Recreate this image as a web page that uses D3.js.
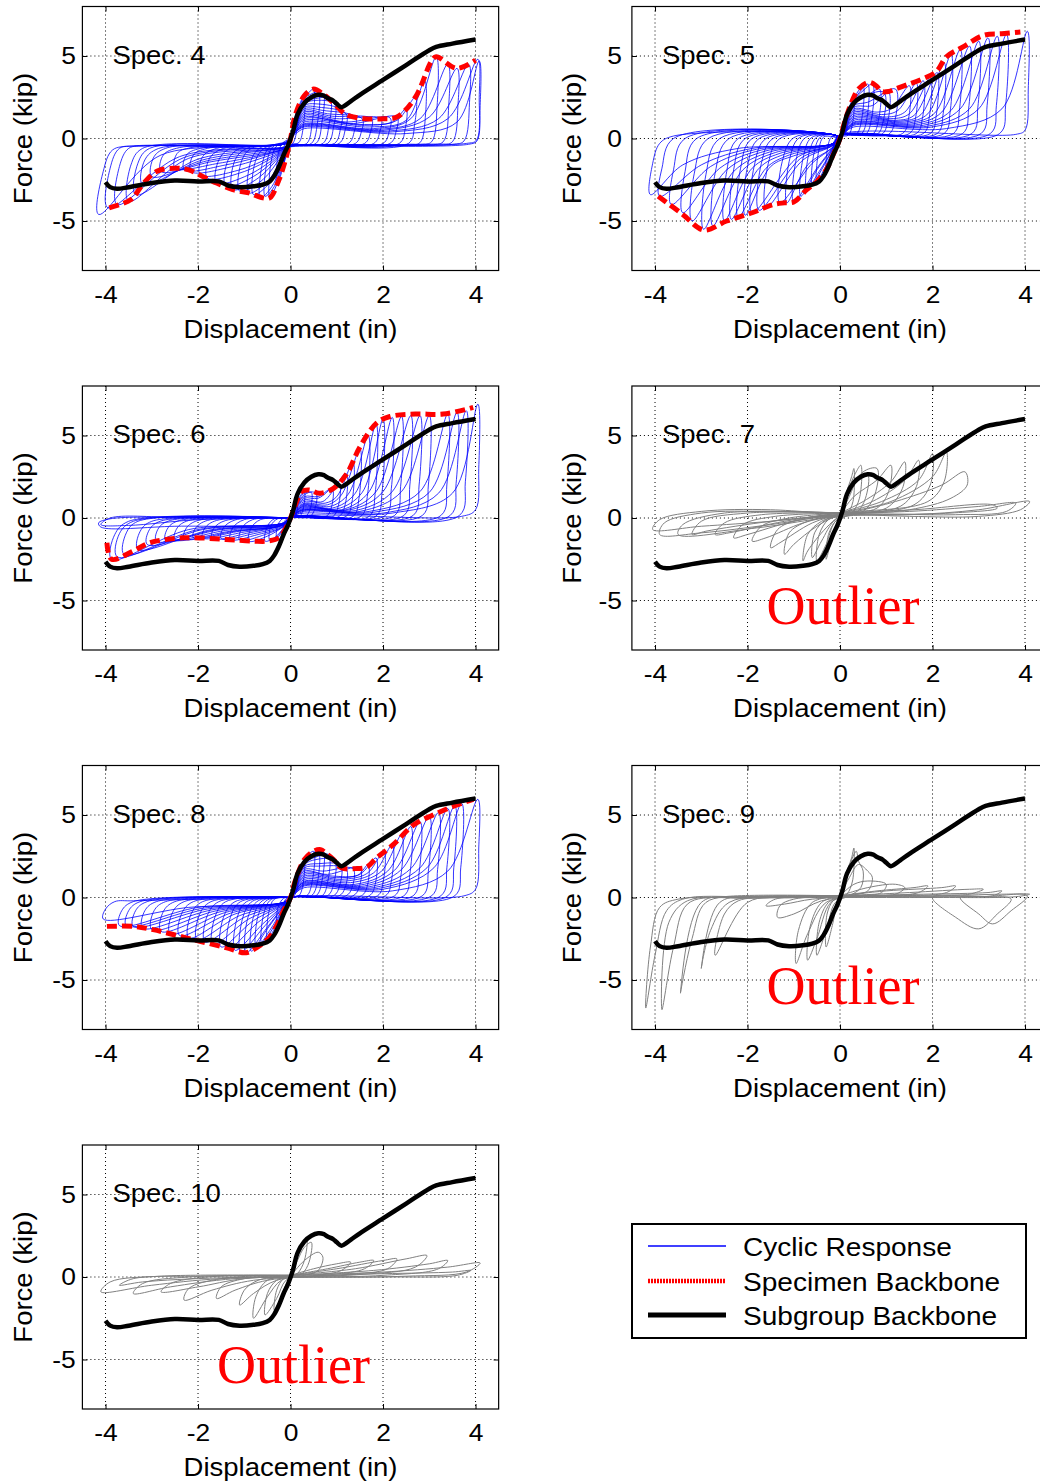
<!DOCTYPE html>
<html><head><meta charset="utf-8">
<script src="https://cdn.jsdelivr.net/npm/d3@7"></script>
<style>body{margin:0;background:#fff}svg{display:block}</style>
</head><body>
<svg id="c" width="1040" height="1483"></svg>
<script>
// ---------- tick labels / axes ----------
const xTicks = [-4, -2, 0, 2, 4];
const yTicks = [-5, 0, 5];
const xDomain = [-4.5, 4.5];
const yDomain = [-8, 8];
const xLabel = "Displacement (in)";
const yLabel = "Force (kip)";
const legendItems = ["Cyclic Response", "Specimen Backbone", "Subgroup Backbone"];

// ---------- subgroup backbone (same in every panel) ----------
const subgroupBackbone = [-4.0,-2.65, -3.9,-2.95, -3.75,-3.05, -3.5,-2.95, -3.0,-2.7, -2.5,-2.55, -2.0,-2.6, -1.55,-2.6, -1.35,-2.85, -1.1,-2.95, -0.8,-2.9, -0.6,-2.8, -0.45,-2.6, -0.35,-2.25, -0.25,-1.7, -0.15,-1.0, -0.05,-0.4, 0.05,0.4, 0.15,1.45, 0.3,2.15, 0.45,2.5, 0.6,2.65, 0.72,2.6, 0.8,2.45, 0.92,2.3, 1.0,2.1, 1.1,1.9, 1.3,2.25, 1.5,2.65, 2.0,3.55, 2.5,4.45, 3.0,5.35, 3.15,5.55, 3.5,5.75, 4.0,6.0];

// ---------- specimen backbones ----------
const spec4Backbone = [-3.92,-4.2, -3.45,-3.7, -3.2,-2.8, -2.9,-2.0, -2.5,-1.8, -2.2,-1.9, -1.9,-2.3, -1.6,-2.7, -1.25,-3.1, -0.9,-3.3, -0.6,-3.6, -0.45,-3.6, -0.25,-2.5, -0.1,-1.2, 0,0, 0.1,1.4, 0.3,2.6, 0.5,3.0, 0.7,2.7, 0.95,2.1, 1.2,1.45, 1.6,1.2, 2.0,1.2, 2.3,1.3, 2.7,2.5, 3.05,4.7, 3.15,4.95, 3.6,4.25, 4.0,4.75];
const spec5Backbone = [-3.93,-3.5, -3.4,-4.6, -2.95,-5.55, -2.45,-5.0, -1.9,-4.5, -1.44,-4.0, -1.2,-3.9, -1.0,-3.85, -0.72,-3.1, -0.5,-2.6, -0.3,-1.9, -0.15,-1.0, 0,0, 0.1,1.0, 0.25,2.2, 0.4,3.0, 0.62,3.4, 0.78,3.2, 0.9,2.85, 1.05,2.85, 1.2,3.0, 1.44,3.25, 1.73,3.55, 2.08,4.05, 2.3,4.95, 2.66,5.55, 3.1,6.25, 3.5,6.35, 3.9,6.45];
const spec6Backbone = [-3.97,-1.5, -3.87,-2.5, -3.4,-2.0, -3.04,-1.5, -2.3,-1.2, -1.4,-1.3, -0.8,-1.4, -0.5,-1.4, -0.25,-1.2, -0.1,-0.6, 0,0, 0.12,0.9, 0.24,1.6, 0.4,1.7, 0.62,1.5, 0.93,1.8, 1.22,2.7, 1.5,4.3, 1.86,5.75, 2.15,6.15, 2.7,6.3, 3.3,6.3, 3.95,6.7];
const spec8Backbone = [-3.97,-1.75, -3.4,-1.75, -2.97,-1.95, -2.46,-2.3, -1.96,-2.65, -1.38,-3.05, -0.96,-3.35, -0.74,-3.05, -0.5,-2.55, -0.3,-1.7, -0.15,-0.8, 0,0, 0.1,1.0, 0.3,2.3, 0.5,2.8, 0.65,2.9, 0.8,2.6, 0.93,2.3, 1.1,1.8, 1.4,1.75, 1.65,1.85, 1.86,2.4, 2.22,3.2, 2.66,4.4, 3.08,5.0, 3.5,5.5, 3.95,5.95];

// ---------- cyclic responses (one flat [x,y,...] array per cycle) ----------
const spec4Cyclic = [
 [0,0, 0.08,1.1, 0.15,1.8, 0.13,0.4, 0.05,-0.3, -0.05,-0.5, -0.15,-1.5, -0.13,-0.4, -0.05,-0.1, 0,0],
 [0,0, 0.1,1.2, 0.2,2.1, 0.3,2.6, 0.28,0.8, 0.18,-0.25, 0,-0.4, -0.12,-1.3, -0.22,-2.3, -0.3,-2.8, -0.27,-1.0, -0.18,-0.3, 0,0],
 [0,0, 0.1,1.1, 0.25,2.3, 0.4,2.8, 0.5,3.0, 0.47,1.0, 0.35,-0.3, 0,-0.4, -0.12,-1.2, -0.3,-2.8, -0.45,-3.6, -0.42,-1.4, -0.3,-0.45, 0,-0.15, 0,0],
 [0,0, 0.12,1.2, 0.3,2.3, 0.5,2.6, 0.7,2.7, 0.68,1.0, 0.55,-0.3, 0,-0.45, -0.15,-1.3, -0.4,-2.9, -0.65,-3.6, -0.6,-1.4, -0.45,-0.5, -0.1,-0.2, 0,0],
 [0,0, 0.12,1.1, 0.3,2.1, 0.5,2.3, 0.95,2.1, 0.93,0.7, 0.8,-0.3, 0,-0.45, -0.15,-1.1, -0.5,-2.6, -0.9,-3.3, -0.85,-1.3, -0.65,-0.55, -0.1,-0.25, 0,0],
 [0,0, 0.12,1.0, 0.3,1.9, 0.6,1.9, 1.2,1.5, 1.18,0.5, 1.05,-0.3, 0,-0.45, -0.2,-1.0, -0.7,-2.4, -1.25,-3.1, -1.2,-1.3, -0.95,-0.6, -0.1,-0.3, 0,0],
 [0,0, 0.12,0.9, 0.3,1.7, 0.8,1.5, 1.55,1.2, 1.53,0.4, 1.4,-0.3, 0,-0.45, -0.2,-0.9, -0.9,-2.2, -1.6,-2.7, -1.55,-1.3, -1.3,-0.6, -0.1,-0.3, 0,0],
 [0,0, 0.12,0.8, 0.3,1.5, 1.0,1.2, 1.95,1.2, 1.93,0.4, 1.8,-0.3, 0,-0.45, -0.2,-0.8, -1.1,-1.9, -1.95,-2.2, -1.9,-1.1, -1.6,-0.6, -0.1,-0.3, 0,0],
 [0,0, 0.12,0.7, 0.3,1.3, 1.3,0.9, 2.3,1.3, 2.28,0.4, 2.15,-0.3, 0,-0.45, -0.2,-0.7, -1.4,-1.6, -2.3,-1.9, -2.25,-1.0, -1.95,-0.6, -0.1,-0.3, 0,0],
 [0,0, 0.12,0.6, 0.3,1.1, 1.6,0.8, 2.3,1.1, 2.7,2.5, 2.68,0.8, 2.55,-0.3, 0,-0.45, -0.2,-0.7, -1.7,-1.4, -2.8,-2.0, -2.75,-1.0, -2.4,-0.55, -0.1,-0.3, 0,0],
 [0,0, 0.12,0.5, 0.3,0.9, 1.8,0.6, 2.6,1.2, 3.15,4.95, 3.17,2.0, 3.05,-0.2, 2.8,-0.35, 0,-0.45, -0.2,-0.6, -1.9,-1.3, -3.2,-2.8, -3.15,-1.3, -2.85,-0.6, -0.1,-0.3, 0,0],
 [0,0, 0.12,0.4, 0.3,0.8, 2.0,0.5, 3.0,1.3, 3.6,4.25, 3.62,2.0, 3.5,-0.2, 3.2,-0.35, 0,-0.45, -0.2,-0.6, -2.2,-1.2, -3.5,-3.8, -3.45,-1.6, -3.2,-0.6, -0.1,-0.3, 0,0],
 [0,0, 0.12,0.4, 0.3,0.7, 2.2,0.4, 3.4,1.2, 4.05,4.8, 4.08,2.5, 4.02,-0.1, 3.8,-0.3, 0,-0.45, -0.2,-0.55, -2.4,-1.1, -3.95,-4.2, -3.9,-1.8, -3.7,-0.6, -3.3,-0.45, -0.1,-0.3, 0,0],
 [0,0, 0.12,0.3, 0.3,0.6, 2.5,0.3, 3.6,1.0, 4.08,4.7, 4.1,2.0, 4.03,-0.15, 3.85,-0.35, 0,-0.5, -0.2,-0.6, -2.8,-1.0, -4.15,-4.6, -4.05,-2.0, -3.85,-0.7, -3.4,-0.45, -0.1,-0.3, 0,0],
 [0,0, 0.12,1.2, 0.3,2.4, 0.45,2.7, 0.6,2.8, 0.58,0.9, 0.45,-0.3, 0,-0.45, -0.15,-1.3, -0.35,-2.9, -0.55,-3.5, -0.5,-1.3, -0.38,-0.5, -0.05,-0.2, 0,0],
 [0,0, 0.12,1.1, 0.3,2.2, 0.5,2.4, 0.85,2.4, 0.83,0.8, 0.7,-0.3, 0,-0.45, -0.15,-1.2, -0.45,-2.7, -0.8,-3.4, -0.75,-1.3, -0.55,-0.55, -0.1,-0.25, 0,0],
 [0,0, 0.12,1.0, 0.3,2.0, 0.55,2.1, 1.1,1.7, 1.08,0.6, 0.95,-0.3, 0,-0.45, -0.2,-1.1, -0.6,-2.5, -1.1,-3.2, -1.05,-1.3, -0.85,-0.6, -0.1,-0.3, 0,0],
 [0,0, 0.12,0.9, 0.3,1.8, 0.7,1.7, 1.4,1.3, 1.38,0.45, 1.25,-0.3, 0,-0.45, -0.2,-0.95, -0.8,-2.3, -1.4,-2.9, -1.35,-1.3, -1.1,-0.6, -0.1,-0.3, 0,0],
 [0,0, 0.12,0.8, 0.3,1.6, 0.9,1.35, 1.75,1.2, 1.73,0.4, 1.6,-0.3, 0,-0.45, -0.2,-0.85, -1.0,-2.0, -1.8,-2.4, -1.75,-1.2, -1.45,-0.6, -0.1,-0.3, 0,0],
 [0,0, 0.12,0.7, 0.3,1.4, 1.2,1.0, 2.15,1.25, 2.13,0.4, 2.0,-0.3, 0,-0.45, -0.2,-0.75, -1.25,-1.7, -2.15,-2.0, -2.1,-1.0, -1.8,-0.6, -0.1,-0.3, 0,0],
 [0,0, 0.12,0.6, 0.3,1.2, 1.5,0.85, 2.2,1.0, 2.5,1.8, 2.48,0.6, 2.35,-0.3, 0,-0.45, -0.2,-0.7, -1.55,-1.5, -2.5,-1.8, -2.45,-0.9, -2.15,-0.55, -0.1,-0.3, 0,0],
 [0,0, 0.12,0.5, 0.3,1.0, 1.7,0.7, 2.5,1.1, 2.9,3.5, 2.92,1.5, 2.8,-0.25, 2.55,-0.35, 0,-0.45, -0.2,-0.65, -1.8,-1.35, -3.0,-2.3, -2.95,-1.1, -2.65,-0.55, -0.1,-0.3, 0,0],
 [0,0, 0.12,0.45, 0.3,0.85, 1.9,0.55, 2.8,1.2, 3.4,4.5, 3.42,2.0, 3.3,-0.2, 3.0,-0.35, 0,-0.45, -0.2,-0.6, -2.0,-1.25, -3.35,-3.4, -3.3,-1.5, -3.05,-0.6, -0.1,-0.3, 0,0],
 [0,0, 0.12,0.4, 0.3,0.75, 2.1,0.45, 3.2,1.2, 3.85,4.5, 3.87,2.2, 3.75,-0.15, 3.5,-0.35, 0,-0.45, -0.2,-0.55, -2.3,-1.15, -3.75,-4.0, -3.7,-1.7, -3.5,-0.6, -3.1,-0.45, -0.1,-0.3, 0,0]
];
const spec5Cyclic = [
 [0,0, 0.08,0.8, 0.15,1.5, 0.13,0.5, 0.05,0.1, -0.05,-0.3, -0.15,-0.9, -0.13,-0.2, -0.05,0.1, 0,0],
 [0,0, 0.1,1.0, 0.2,1.9, 0.3,2.5, 0.27,0.9, 0.18,0.2, 0,0.1, -0.12,-0.7, -0.22,-1.4, -0.3,-1.9, -0.27,-0.6, -0.18,0.1, 0,0],
 [0,0, 0.1,1.0, 0.25,2.1, 0.4,2.9, 0.5,3.2, 0.47,1.2, 0.35,0.25, 0,0.15, -0.15,-0.7, -0.35,-1.9, -0.5,-2.6, -0.47,-0.9, -0.35,0.1, 0,0],
 [0,0, 0.12,1.1, 0.3,2.3, 0.5,2.9, 0.7,3.3, 0.68,1.2, 0.55,0.25, 0,0.2, -0.15,-0.6, -0.45,-2.0, -0.72,-3.1, -0.68,-1.0, -0.5,0.1, -0.1,0.2, 0,0],
 [0,0, 0.12,1.0, 0.3,2.2, 0.55,2.6, 0.95,2.8, 0.93,1.0, 0.8,0.25, 0,0.2, -0.15,-0.5, -0.5,-1.8, -1.0,-3.85, -0.95,-1.3, -0.75,0.05, -0.1,0.2, 0,0],
 [0,0, 0.12,1.0, 0.3,2.0, 0.6,2.2, 1.2,3.0, 1.18,1.0, 1.05,0.25, 0,0.2, -0.15,-0.5, -0.6,-1.5, -1.3,-3.9, -1.25,-1.4, -1.0,0.05, -0.1,0.2, 0,0],
 [0,0, 0.12,0.9, 0.3,1.8, 0.8,1.6, 1.1,1.8, 1.5,3.2, 1.48,1.2, 1.35,0.3, 0,0.2, -0.15,-0.4, -0.8,-1.3, -1.6,-4.2, -1.55,-1.5, -1.3,0.0, -0.1,0.2, 0,0],
 [0,0, 0.12,0.8, 0.3,1.6, 1.0,1.3, 1.4,1.6, 1.8,3.5, 1.78,1.2, 1.65,0.3, 0,0.2, -0.15,-0.4, -0.9,-1.1, -1.9,-4.5, -1.85,-1.6, -1.6,0.0, -0.1,0.2, 0,0],
 [0,0, 0.12,0.7, 0.3,1.4, 1.2,1.1, 1.6,1.4, 2.1,4.0, 2.08,1.4, 1.95,0.3, 0,0.2, -0.15,-0.35, -1.1,-1.0, -1.6,-1.8, -2.2,-4.8, -2.15,-1.8, -1.9,0.0, -0.1,0.2, 0,0],
 [0,0, 0.12,0.6, 0.3,1.2, 1.4,1.0, 1.9,1.5, 2.4,5.1, 2.38,1.6, 2.25,0.3, 0,0.2, -0.15,-0.3, -1.3,-0.9, -1.9,-1.8, -2.5,-5.0, -2.45,-2.0, -2.2,0.0, -0.1,0.2, 0,0],
 [0,0, 0.12,0.5, 0.3,1.0, 1.6,0.9, 2.2,1.6, 2.8,5.6, 2.78,1.8, 2.65,0.3, 0,0.2, -0.15,-0.3, -1.5,-0.8, -2.3,-2.0, -2.95,-5.5, -2.9,-2.2, -2.6,0.0, -0.1,0.2, 0,0],
 [0,0, 0.12,0.5, 0.3,0.9, 1.8,0.8, 2.6,1.8, 3.2,6.1, 3.18,2.0, 3.05,0.3, 0,0.2, -0.15,-0.3, -1.7,-0.7, -2.6,-1.8, -3.4,-4.5, -3.35,-2.0, -3.1,0.0, -0.1,0.2, 0,0],
 [0,0, 0.12,0.4, 0.3,0.8, 2.0,0.7, 3.0,1.8, 3.6,6.3, 3.58,2.0, 3.45,0.3, 0,0.2, -0.15,-0.3, -1.9,-0.6, -3.0,-1.6, -3.9,-3.5, -3.85,-1.8, -3.6,0.0, -0.1,0.2, 0,0],
 [0,0, 0.12,0.4, 0.3,0.7, 2.3,0.6, 3.5,1.8, 4.05,6.5, 4.07,3.0, 4.0,0.5, 3.8,0.25, 0,0.25, -0.15,-0.3, -2.2,-0.6, -3.4,-1.6, -4.1,-3.4, -4.05,-1.5, -3.9,-0.3, -3.6,0.15, -0.1,0.2, 0,0],
 [0,0, 0.12,1.1, 0.3,2.3, 0.45,2.9, 0.6,3.3, 0.58,1.2, 0.45,0.25, 0,0.2, -0.15,-0.6, -0.4,-1.9, -0.6,-2.8, -0.57,-1.0, -0.42,0.1, -0.1,0.2, 0,0],
 [0,0, 0.12,1.0, 0.3,2.1, 0.55,2.5, 0.85,3.0, 0.83,1.1, 0.7,0.25, 0,0.2, -0.15,-0.55, -0.5,-1.9, -0.85,-3.5, -0.8,-1.2, -0.62,0.05, -0.1,0.2, 0,0],
 [0,0, 0.12,1.0, 0.3,1.9, 0.7,2.0, 1.05,2.8, 1.03,1.0, 0.9,0.25, 0,0.2, -0.15,-0.5, -0.7,-1.6, -1.15,-3.9, -1.1,-1.4, -0.88,0.05, -0.1,0.2, 0,0],
 [0,0, 0.12,0.85, 0.3,1.7, 0.9,1.45, 1.25,1.7, 1.65,3.35, 1.63,1.2, 1.5,0.3, 0,0.2, -0.15,-0.4, -0.85,-1.2, -1.75,-4.35, -1.7,-1.5, -1.45,0.0, -0.1,0.2, 0,0],
 [0,0, 0.12,0.75, 0.3,1.5, 1.1,1.2, 1.5,1.5, 1.95,3.7, 1.93,1.3, 1.8,0.3, 0,0.2, -0.15,-0.35, -1.0,-1.05, -1.5,-1.7, -2.05,-4.65, -2.0,-1.7, -1.75,0.0, -0.1,0.2, 0,0],
 [0,0, 0.12,0.65, 0.3,1.3, 1.3,1.05, 1.75,1.45, 2.25,4.6, 2.23,1.5, 2.1,0.3, 0,0.2, -0.15,-0.3, -1.2,-0.95, -1.75,-1.8, -2.35,-4.9, -2.3,-1.9, -2.05,0.0, -0.1,0.2, 0,0],
 [0,0, 0.12,0.55, 0.3,1.1, 1.5,0.95, 2.05,1.55, 2.6,5.4, 2.58,1.7, 2.45,0.3, 0,0.2, -0.15,-0.3, -1.4,-0.85, -2.1,-1.9, -2.75,-5.3, -2.7,-2.1, -2.4,0.0, -0.1,0.2, 0,0],
 [0,0, 0.12,0.45, 0.3,0.95, 1.7,0.85, 2.4,1.7, 3.0,5.9, 2.98,1.9, 2.85,0.3, 0,0.2, -0.15,-0.3, -1.6,-0.75, -2.45,-1.9, -3.2,-5.0, -3.15,-2.1, -2.85,0.0, -0.1,0.2, 0,0],
 [0,0, 0.12,0.4, 0.3,0.85, 1.9,0.75, 2.8,1.8, 3.4,6.2, 3.38,2.0, 3.25,0.3, 0,0.2, -0.15,-0.3, -1.8,-0.65, -2.8,-1.7, -3.65,-4.0, -3.6,-1.9, -3.35,0.0, -0.1,0.2, 0,0]
];
const spec6Cyclic = [
 [0,0, 0.08,0.5, 0.15,1.0, 0.13,0.3, 0.05,0, -0.05,-0.2, -0.15,-0.7, -0.13,-0.2, -0.05,0, 0,0],
 [0,0, 0.1,0.8, 0.2,1.3, 0.3,1.6, 0.27,0.5, 0.18,0.05, 0,0, -0.12,-0.5, -0.22,-1.0, -0.3,-1.2, -0.27,-0.4, -0.15,0, 0,0],
 [0,0, 0.12,0.8, 0.3,1.5, 0.55,1.5, 0.52,0.5, 0.4,0.05, 0,0, -0.15,-0.6, -0.35,-1.2, -0.55,-1.4, -0.5,-0.5, -0.35,-0.05, 0,0],
 [0,0, 0.12,0.7, 0.3,1.3, 0.6,1.3, 0.9,1.8, 0.88,0.6, 0.75,0.05, 0,0, -0.15,-0.5, -0.5,-1.1, -0.9,-1.4, -0.85,-0.6, -0.65,-0.1, 0,0],
 [0,0, 0.12,0.6, 0.3,1.1, 0.7,1.0, 1.2,2.7, 1.18,0.8, 1.05,0.1, 0,0, -0.15,-0.5, -0.7,-1.0, -1.3,-1.3, -1.25,-0.6, -1.0,-0.1, 0,0],
 [0,0, 0.12,0.5, 0.3,0.9, 0.8,0.8, 1.1,1.4, 1.5,4.2, 1.48,1.2, 1.35,0.1, 0,0, -0.15,-0.4, -0.9,-0.9, -1.7,-1.25, -1.65,-0.6, -1.4,-0.15, 0,0],
 [0,0, 0.12,0.4, 0.3,0.8, 0.9,0.6, 1.4,1.5, 1.85,5.7, 1.83,1.5, 1.7,0.1, 0,0.05, -0.15,-0.4, -1.1,-0.8, -2.1,-1.2, -2.05,-0.6, -1.8,-0.15, 0,0],
 [0,0, 0.12,0.4, 0.3,0.7, 1.1,0.5, 1.7,1.6, 2.2,6.1, 2.18,1.8, 2.05,0.15, 0,0.05, -0.15,-0.4, -1.3,-0.8, -2.5,-1.3, -2.45,-0.6, -2.2,-0.15, 0,0],
 [0,0, 0.12,0.3, 0.3,0.6, 1.3,0.5, 2.0,1.6, 2.6,6.2, 2.58,2.0, 2.45,0.15, 0,0.05, -0.15,-0.35, -1.5,-0.7, -2.9,-1.4, -2.85,-0.6, -2.6,-0.15, 0,0],
 [0,0, 0.12,0.3, 0.3,0.5, 1.5,0.4, 2.4,1.6, 3.0,6.2, 2.98,2.0, 2.85,0.15, 0,0.05, -0.15,-0.35, -1.7,-0.7, -3.3,-1.9, -3.25,-0.8, -3.0,-0.2, 0,0],
 [0,0, 0.12,0.3, 0.3,0.5, 1.7,0.4, 2.8,1.6, 3.4,6.3, 3.38,2.0, 3.25,0.15, 0,0.05, -0.15,-0.3, -1.9,-0.7, -3.6,-2.2, -3.55,-0.9, -3.3,-0.2, 0,0],
 [0,0, 0.12,0.2, 0.3,0.4, 2.0,0.3, 3.2,1.5, 3.8,6.5, 3.78,2.2, 3.65,0.15, 0,0.05, -0.15,-0.3, -2.2,-0.7, -3.87,-2.5, -3.8,-1.0, -3.5,-0.2, 0,0],
 [0,0, 0.12,0.2, 0.3,0.3, 2.2,0.3, 3.5,1.5, 4.05,6.9, 4.07,3.0, 4.0,0.5, 3.7,0.1, 0,0.05, -0.15,-0.3, -2.5,-0.5, -4.1,-0.55, -4.15,-0.3, -3.9,-0.05, -2.5,0.05, 0,0],
 [0,0, -2.0,-0.1, -3.5,-0.45, -4.1,-0.4, -3.9,0.0, -2.5,0.05, 0,0],
 [0,0, 0.12,0.75, 0.3,1.4, 0.45,1.55, 0.42,0.5, 0.3,0.05, 0,0, -0.13,-0.55, -0.3,-1.15, -0.45,-1.35, -0.42,-0.45, -0.28,-0.05, 0,0],
 [0,0, 0.12,0.65, 0.3,1.2, 0.6,1.2, 1.05,2.1, 1.03,0.7, 0.9,0.05, 0,0, -0.15,-0.5, -0.6,-1.05, -1.1,-1.35, -1.05,-0.6, -0.82,-0.1, 0,0],
 [0,0, 0.12,0.55, 0.3,1.0, 0.75,0.9, 1.0,1.3, 1.35,3.4, 1.33,1.0, 1.2,0.1, 0,0, -0.15,-0.45, -0.8,-0.95, -1.5,-1.25, -1.45,-0.6, -1.2,-0.12, 0,0],
 [0,0, 0.12,0.45, 0.3,0.85, 0.85,0.7, 1.25,1.45, 1.68,5.0, 1.66,1.3, 1.52,0.1, 0,0.05, -0.15,-0.4, -1.0,-0.85, -1.9,-1.2, -1.85,-0.6, -1.6,-0.15, 0,0],
 [0,0, 0.12,0.4, 0.3,0.75, 1.0,0.55, 1.55,1.55, 2.0,6.0, 1.98,1.6, 1.85,0.12, 0,0.05, -0.15,-0.4, -1.2,-0.8, -2.3,-1.25, -2.25,-0.6, -2.0,-0.15, 0,0],
 [0,0, 0.12,0.35, 0.3,0.65, 1.2,0.5, 1.85,1.6, 2.4,6.15, 2.38,1.9, 2.25,0.15, 0,0.05, -0.15,-0.38, -1.4,-0.75, -2.7,-1.35, -2.65,-0.6, -2.4,-0.15, 0,0],
 [0,0, 0.12,0.3, 0.3,0.55, 1.4,0.45, 2.2,1.6, 2.8,6.2, 2.78,2.0, 2.65,0.15, 0,0.05, -0.15,-0.35, -1.6,-0.7, -3.1,-1.6, -3.05,-0.7, -2.8,-0.18, 0,0],
 [0,0, 0.12,0.25, 0.3,0.45, 1.8,0.35, 3.0,1.55, 3.6,6.4, 3.58,2.1, 3.45,0.15, 0,0.05, -0.15,-0.3, -2.0,-0.7, -3.75,-2.35, -3.7,-0.95, -3.4,-0.2, 0,0]
];
const spec7Cyclic = [
 [0,0, 0.1,1.2, 0.25,2.5, 0.3,3.0, 0.28,1.0, 0.15,0.2, -0.05,-0.3, -0.2,-1.5, -0.3,-2.5, -0.25,-1.0, -0.1,-0.2, 0,0],
 [0,0.1, 0.15,1.5, 0.35,2.8, 0.45,3.2, 0.42,1.2, 0.25,0.3, -0.1,-0.2, -0.3,-1.6, -0.5,-2.6, -0.45,-1.0, -0.25,-0.1, 0,0.1],
 [0,0.1, 0.2,1.3, 0.4,2.4, 0.6,2.6, 0.55,1.2, 0.35,0.3, -0.1,-0.1, -0.4,-1.4, -0.6,-2.4, -0.55,-0.9, -0.3,-0.1, 0,0.1],
 [0,0.2, 0.2,1.5, 0.5,2.8, 0.8,3.0, 0.75,1.4, 0.5,0.4, 0,0.1, -0.3,-0.6, -0.7,-2.0, -0.8,-2.6, -0.7,-1.0, -0.4,-0.2, 0,0.2],
 [0,0.2, 0.3,1.3, 0.8,2.3, 1.1,3.2, 1.05,1.6, 0.8,0.6, 0,0.2, -0.5,-0.5, -1.0,-1.6, -1.2,-2.2, -1.1,-0.9, -0.7,-0.2, 0,0.2],
 [0,0.3, 0.5,1.0, 1.1,2.2, 1.4,3.4, 1.35,1.8, 1.0,0.6, 0,0.2, -0.6,-0.3, -1.3,-1.5, -1.5,-1.8, -1.35,-0.7, -0.9,-0.1, 0,0.3],
 [0,0.3, 0.7,1.0, 1.4,2.3, 1.7,3.5, 1.65,1.9, 1.3,0.7, 0,0.2, -0.8,-0.3, -1.6,-1.2, -1.9,-1.4, -1.7,-0.5, -1.1,0.0, 0,0.3],
 [0,0.3, 0.9,1.0, 1.7,2.3, 2.0,3.9, 1.95,2.0, 1.6,0.8, 0,0.2, -1.0,-0.2, -2.0,-1.0, -2.3,-1.2, -2.1,-0.4, -1.4,0.1, 0,0.3],
 [0,0.3, 1.1,1.0, 2.0,2.5, 2.3,4.0, 2.25,2.2, 1.9,1.0, 0,0.3, -1.2,-0.2, -2.4,-0.9, -2.7,-1.0, -2.5,-0.3, -1.7,0.2, 0,0.3],
 [0.2,0.3, 1.2,1.0, 2.2,2.0, 2.7,2.8, 2.75,2.0, 2.4,1.2, 1.5,0.5, 0,0.2, -1.5,-0.2, -2.9,-0.8, -3.2,-1.0, -3.0,-0.2, -2.0,0.3, 0.2,0.3],
 [0,0.2, 1.5,0.2, 3.0,0.5, 4.1,1.0, 3.9,0.5, 3.0,0.1, 1.5,0.1, 0,0.2, -1.5,-0.2, -3.0,-0.5, -4.05,-0.7, -3.9,-0.1, -3.0,0.4, -1.5,0.5, 0,0.2],
 [0,0.3, 1.5,0.4, 3.0,0.7, 3.8,0.9, 3.6,0.4, 2.5,0.2, 0,0.2, -1.5,-0.4, -3.0,-0.9, -3.9,-1.0, -3.8,-0.3, -3.0,0.3, -1.5,0.4, 0,0.3],
 [0,0.3, 1.6,0.5, 3.3,0.8, 3.4,0.6, 2.4,0.3, 0,0.1, -1.8,-0.6, -3.5,-1.0, -3.4,-0.4, -2.5,0.3, 0,0.3]
];
const spec8Cyclic = [
 [0,0, 0.08,0.7, 0.15,1.4, 0.13,0.4, 0.05,0, -0.05,-0.2, -0.15,-0.8, -0.13,-0.2, -0.05,0, 0,0],
 [0,0, 0.1,1.0, 0.2,1.7, 0.3,2.3, 0.27,0.8, 0.18,0.1, 0,0, -0.12,-0.6, -0.22,-1.2, -0.3,-1.7, -0.27,-0.6, -0.15,-0.05, 0,0],
 [0,0, 0.12,1.1, 0.3,2.3, 0.5,2.8, 0.47,1.0, 0.35,0.1, 0,0, -0.15,-0.7, -0.35,-1.9, -0.5,-2.55, -0.47,-0.9, -0.35,-0.1, 0,0],
 [0,0, 0.12,1.1, 0.3,2.2, 0.5,2.6, 0.7,2.85, 0.68,1.0, 0.55,0.1, 0,0, -0.15,-0.6, -0.45,-2.0, -0.74,-3.05, -0.7,-1.1, -0.5,-0.15, 0,0],
 [0,0, 0.12,1.0, 0.3,2.0, 0.55,2.3, 0.95,2.25, 0.93,0.8, 0.8,0.1, 0,0, -0.15,-0.5, -0.5,-1.8, -0.96,-3.35, -0.92,-1.2, -0.7,-0.2, 0,0],
 [0,0, 0.12,0.9, 0.3,1.8, 0.6,1.9, 1.2,1.75, 1.18,0.6, 1.05,0.1, 0,0, -0.15,-0.45, -0.6,-1.6, -1.2,-3.2, -1.15,-1.2, -0.95,-0.25, 0,0],
 [0,0, 0.12,0.8, 0.3,1.6, 0.8,1.4, 1.5,1.8, 1.48,0.6, 1.35,0.1, 0,0, -0.15,-0.4, -0.8,-1.4, -1.5,-3.0, -1.45,-1.2, -1.2,-0.25, 0,0],
 [0,0, 0.12,0.7, 0.3,1.4, 1.0,1.2, 1.5,1.4, 1.85,2.4, 1.83,0.8, 1.7,0.1, 0,0, -0.15,-0.35, -1.0,-1.2, -1.85,-2.7, -1.8,-1.1, -1.55,-0.25, 0,0],
 [0,0, 0.12,0.6, 0.3,1.2, 1.2,1.0, 1.8,1.5, 2.2,3.2, 2.18,1.0, 2.05,0.1, 0,0, -0.15,-0.35, -1.2,-1.0, -2.2,-2.45, -2.15,-1.0, -1.9,-0.25, 0,0],
 [0,0, 0.12,0.5, 0.3,1.0, 1.4,0.8, 2.1,1.6, 2.6,4.3, 2.58,1.4, 2.45,0.1, 0,0, -0.15,-0.3, -1.4,-0.9, -2.6,-2.2, -2.55,-0.9, -2.3,-0.25, 0,0],
 [0,0, 0.12,0.5, 0.3,0.9, 1.6,0.7, 2.4,1.7, 3.0,4.9, 2.98,1.6, 2.85,0.1, 0,0, -0.15,-0.3, -1.6,-0.8, -3.0,-1.95, -2.95,-0.8, -2.7,-0.25, 0,0],
 [0,0, 0.12,0.4, 0.3,0.8, 1.8,0.6, 2.8,1.8, 3.4,5.4, 3.38,1.8, 3.25,0.1, 0,0, -0.15,-0.3, -1.8,-0.7, -3.4,-1.75, -3.35,-0.8, -3.1,-0.25, 0,0],
 [0,0, 0.12,0.3, 0.3,0.7, 2.0,0.5, 3.1,1.8, 3.7,5.7, 3.68,1.8, 3.55,0.1, 0,0, -0.15,-0.3, -2.0,-0.6, -3.7,-1.7, -3.65,-0.8, -3.4,-0.25, 0,0],
 [0,0, 0.12,0.3, 0.3,0.6, 2.2,0.4, 3.4,1.6, 4.05,5.95, 4.07,3.0, 4.0,0.5, 3.75,0.1, 0,0, -0.15,-0.3, -2.2,-0.6, -4.05,-1.3, -4.0,-0.7, -3.8,-0.25, -3.4,-0.2, 0,0],
 [0,0, 0.12,1.1, 0.3,2.25, 0.45,2.6, 0.6,2.85, 0.58,0.9, 0.45,0.1, 0,0, -0.15,-0.65, -0.4,-1.95, -0.62,-2.8, -0.58,-1.0, -0.42,-0.12, 0,0],
 [0,0, 0.12,1.05, 0.3,2.1, 0.55,2.45, 0.82,2.6, 0.8,0.9, 0.68,0.1, 0,0, -0.15,-0.55, -0.5,-1.9, -0.85,-3.25, -0.8,-1.15, -0.6,-0.18, 0,0],
 [0,0, 0.12,0.95, 0.3,1.9, 0.6,2.05, 1.08,1.95, 1.06,0.7, 0.93,0.1, 0,0, -0.15,-0.47, -0.55,-1.7, -1.08,-3.3, -1.03,-1.2, -0.82,-0.22, 0,0],
 [0,0, 0.12,0.85, 0.3,1.7, 0.7,1.6, 1.35,1.75, 1.33,0.6, 1.2,0.1, 0,0, -0.15,-0.42, -0.7,-1.5, -1.35,-3.1, -1.3,-1.2, -1.08,-0.25, 0,0],
 [0,0, 0.12,0.75, 0.3,1.5, 0.9,1.3, 1.45,1.35, 1.68,2.0, 1.66,0.7, 1.53,0.1, 0,0, -0.15,-0.38, -0.9,-1.3, -1.68,-2.85, -1.63,-1.15, -1.4,-0.25, 0,0],
 [0,0, 0.12,0.65, 0.3,1.3, 1.1,1.1, 1.65,1.45, 2.02,2.8, 2.0,0.9, 1.88,0.1, 0,0, -0.15,-0.35, -1.1,-1.1, -2.02,-2.55, -1.97,-1.05, -1.72,-0.25, 0,0],
 [0,0, 0.12,0.55, 0.3,1.1, 1.3,0.9, 1.95,1.55, 2.4,3.8, 2.38,1.2, 2.25,0.1, 0,0, -0.15,-0.32, -1.3,-0.95, -2.4,-2.3, -2.35,-0.95, -2.1,-0.25, 0,0],
 [0,0, 0.12,0.45, 0.3,0.95, 1.5,0.75, 2.25,1.65, 2.8,4.6, 2.78,1.5, 2.65,0.1, 0,0, -0.15,-0.3, -1.5,-0.85, -2.8,-2.05, -2.75,-0.85, -2.5,-0.25, 0,0],
 [0,0, 0.12,0.4, 0.3,0.85, 1.7,0.65, 2.6,1.75, 3.2,5.15, 3.18,1.7, 3.05,0.1, 0,0, -0.15,-0.3, -1.7,-0.75, -3.2,-1.85, -3.15,-0.8, -2.9,-0.25, 0,0],
 [0,0, 0.12,0.35, 0.3,0.75, 1.9,0.55, 2.95,1.8, 3.55,5.55, 3.53,1.8, 3.4,0.1, 0,0, -0.15,-0.3, -1.9,-0.65, -3.55,-1.72, -3.5,-0.8, -3.25,-0.25, 0,0]
];
const spec9Cyclic = [
 [0,0, 0.1,1.2, 0.25,2.4, 0.3,3.0, 0.27,1.0, 0.15,0.2, -0.05,-0.2, -0.15,-1.5, -0.3,-3.0, -0.28,-1.0, -0.15,-0.2, 0,0],
 [0,0, 0.15,1.5, 0.35,2.8, 0.4,2.2, 0.5,1.6, 0.45,0.6, 0.2,0.1, -0.1,-0.3, -0.3,-2.0, -0.5,-3.5, -0.45,-1.5, -0.25,-0.3, 0,0],
 [0,0.1, 0.2,1.2, 0.4,2.0, 0.6,1.6, 0.7,1.2, 0.6,0.4, 0.2,0.1, -0.2,-0.3, -0.5,-2.5, -0.7,-3.8, -0.65,-1.8, -0.4,-0.3, 0,0.1],
 [0,0.1, 0.3,0.8, 0.6,1.0, 1.0,0.8, 0.9,0.3, 0.4,0.1, -0.3,-0.3, -0.7,-2.2, -0.95,-4.0, -0.9,-2.0, -0.6,-0.3, 0,0.1],
 [0,0.1, 0.6,0.6, 1.2,0.8, 1.4,0.6, 1.2,0.2, 0.5,0.1, -0.4,-0.2, -1.0,-1.0, -1.35,-1.2, -1.3,-0.5, -1.0,-0.1, 0,0.1],
 [0,0.1, 0.8,0.4, 1.6,0.6, 1.9,0.7, 1.7,0.3, 0.8,0.1, -0.6,-0.1, -1.2,-0.4, -1.6,-0.5, -1.4,-0.1, 0,0.1],
 [0,0.1, 1.0,0.4, 2.2,0.6, 2.5,0.7, 2.3,0.3, 1.0,0.1, -1.0,0, -2.0,-0.3, -2.7,-3.5, -2.5,-1.0, -2.2,-0.2, -1.5,0, 0,0.1],
 [0,0.1, 1.5,0.3, 2.8,0.5, 3.1,0.5, 2.8,0.2, 2.0,0, 2.5,-1.2, 3.0,-1.9, 3.4,-1.0, 3.7,-0.1, 3.0,0.05, 0,0.05, -1.5,0, -2.6,-0.3, -3.0,-4.3, -2.8,-2.0, -2.4,-0.3, -1.0,0.05, 0,0.1],
 [0,0.1, 1.8,0.2, 3.2,0.3, 3.5,0.4, 3.3,0.1, 2.6,0, 3.0,-1.0, 3.3,-1.6, 3.7,-0.8, 4.05,0.1, 3.0,0.05, 0,0.05, -2.0,0, -3.0,-0.3, -3.45,-5.8, -3.2,-2.5, -2.9,-0.3, -2.0,0.05, 0,0.1],
 [0,0.1, 2.0,0.1, 3.5,0.2, 4.1,0.2, 3.8,0.05, 2.0,0, 0,0, -2.0,-0.05, -3.3,-0.2, -3.7,-1.5, -3.85,-6.8, -3.6,-3.0, -3.3,-0.4, -2.5,0.05, 0,0.1],
 [0,0.05, -2.0,0.0, -3.5,-0.1, -3.9,-0.6, -4.1,-3.0, -4.2,-6.7, -4.0,-3.5, -3.75,-0.8, -3.4,-0.1, -2.0,0.05, 0,0.05]
];
const spec10Cyclic = [
 [0,0, 0.1,1.0, 0.25,2.0, 0.35,2.3, 0.3,1.0, 0.15,0.2, -0.05,-0.2, -0.2,-1.2, -0.35,-2.0, -0.3,-0.8, -0.15,-0.1, 0,0],
 [0,0, 0.15,1.0, 0.3,1.8, 0.45,2.1, 0.4,0.9, 0.25,0.2, -0.1,-0.2, -0.3,-1.3, -0.55,-2.3, -0.5,-1.0, -0.3,-0.2, 0,0],
 [0,0.05, 0.3,1.0, 0.6,1.5, 0.7,1.2, 0.6,0.4, 0.3,0.1, -0.2,-0.2, -0.5,-1.2, -0.8,-2.5, -0.75,-1.2, -0.5,-0.2, 0,0.05],
 [0,0.1, 0.5,0.5, 1.0,0.8, 1.3,0.9, 1.1,0.4, 0.6,0.1, -0.3,-0.2, -0.8,-1.0, -1.1,-1.7, -1.0,-0.8, -0.7,-0.2, 0,0.1],
 [0,0.1, 0.8,0.5, 1.5,0.9, 1.8,1.0, 1.6,0.5, 0.9,0.15, -0.5,-0.2, -1.2,-0.8, -1.6,-1.3, -1.5,-0.6, -1.0,-0.1, 0,0.1],
 [0,0.1, 1.0,0.5, 2.0,1.0, 2.3,1.1, 2.1,0.5, 1.2,0.15, -0.8,-0.2, -1.7,-0.8, -2.3,-1.4, -2.2,-0.7, -1.5,-0.1, 0,0.1],
 [0,0.1, 1.4,0.5, 2.5,1.1, 2.95,1.3, 2.7,0.6, 1.5,0.15, -1.0,-0.1, -2.0,-0.6, -2.8,-0.9, -2.6,-0.4, -1.8,0, 0,0.1],
 [0,0.1, 1.8,0.4, 3.0,0.8, 3.4,1.0, 3.2,0.5, 2.0,0.1, -1.2,-0.1, -2.6,-0.6, -3.4,-1.0, -3.2,-0.4, -2.2,0, 0,0.1],
 [0,0.1, 2.0,0.3, 3.4,0.6, 4.1,0.85, 3.8,0.3, 2.5,0.05, -1.5,-0.1, -3.0,-0.5, -4.1,-0.9, -3.9,-0.3, -2.8,0.05, 0,0.1],
 [0,0.05, 2.0,0.2, 3.5,0.3, 3.9,0.4, 3.6,0.1, 2.0,0.0, -1.5,-0.05, -3.2,-0.3, -3.7,-0.5, -3.4,-0.1, -2.0,0.05, 0,0.05]
];

// ---------- panels ----------
const panels = [
 {name:"Spec. 4",  col:0, row:0, cyclic:spec4Cyclic,  backbone:spec4Backbone, outlier:false},
 {name:"Spec. 5",  col:1, row:0, cyclic:spec5Cyclic,  backbone:spec5Backbone, outlier:false},
 {name:"Spec. 6",  col:0, row:1, cyclic:spec6Cyclic,  backbone:spec6Backbone, outlier:false},
 {name:"Spec. 7",  col:1, row:1, cyclic:spec7Cyclic,  backbone:null,          outlier:true},
 {name:"Spec. 8",  col:0, row:2, cyclic:spec8Cyclic,  backbone:spec8Backbone, outlier:false},
 {name:"Spec. 9",  col:1, row:2, cyclic:spec9Cyclic,  backbone:null,          outlier:true},
 {name:"Spec. 10", col:0, row:3, cyclic:spec10Cyclic, backbone:null,          outlier:true}
];

// ---------- layout ----------
const colLeft = [82.4, 631.9], W = 416.25;
const rowTop = [6.5, 386, 765.5, 1145], H = 264;
const SANS = "'Liberation Sans', Arial, Helvetica, sans-serif";
const SERIF = "'Liberation Serif', 'Times New Roman', serif";
const SX = 1.1;

const svg = d3.select("#c");
const pairs = a => { const r = []; for (let i = 0; i < a.length; i += 2) r.push([a[i], a[i+1]]); return r; };

function txt(g, x, y, s, o = {}) {
  return g.append("text").text(s)
    .attr("transform", `translate(${x},${y})` + (o.rot ? ` rotate(${o.rot})` : "") + ` scale(${o.sx ?? SX},1)`)
    .attr("font-family", o.family || SANS)
    .attr("font-size", o.size || 25)
    .attr("text-anchor", o.anchor || "start")
    .attr("fill", o.fill || "#000");
}

panels.forEach((p, i) => {
  const L = colLeft[p.col], T = rowTop[p.row];
  const x = d3.scaleLinear().domain(xDomain).range([L, L + W]);
  const y = d3.scaleLinear().domain(yDomain).range([T + H, T]);
  const g = svg.append("g");

  g.selectAll("line.gx").data(xTicks).join("line").attr("class","gx")
    .attr("x1", d => x(d)).attr("x2", d => x(d)).attr("y1", T).attr("y2", T + H)
    .attr("stroke", "#000").attr("stroke-width", 1).attr("stroke-dasharray", "1,3");
  g.selectAll("line.gy").data(yTicks).join("line").attr("class","gy")
    .attr("y1", d => y(d)).attr("y2", d => y(d)).attr("x1", L).attr("x2", L + W)
    .attr("stroke", "#000").attr("stroke-width", 1).attr("stroke-dasharray", "1,3");

  const cid = "clip" + i;
  svg.append("clipPath").attr("id", cid).append("rect")
    .attr("x", L).attr("y", T).attr("width", W).attr("height", H);
  const pg = g.append("g").attr("clip-path", `url(#${cid})`);

  const smooth = d3.line().x(d => x(d[0])).y(d => y(d[1])).curve(d3.curveCatmullRom.alpha(0.5));
  const cycColor = p.outlier ? "#808080" : "#0000ff";
  pg.selectAll("path.cyc").data(p.cyclic).join("path").attr("class","cyc")
    .attr("d", d => smooth(pairs(d)))
    .attr("fill", "none").attr("stroke", cycColor).attr("stroke-width", p.outlier ? 1 : 0.8);

  if (p.backbone) {
    pg.append("path").attr("d", smooth(pairs(p.backbone)))
      .attr("fill", "none").attr("stroke", "#ff0000").attr("stroke-width", 5)
      .attr("stroke-dasharray", "10,5");
  }
  pg.append("path").attr("d", smooth(pairs(subgroupBackbone)))
    .attr("fill", "none").attr("stroke", "#000").attr("stroke-width", 4.5)
    .attr("stroke-linejoin", "round");

  g.append("rect").attr("x", L).attr("y", T).attr("width", W).attr("height", H)
    .attr("fill", "none").attr("stroke", "#000").attr("stroke-width", 1.2);

  const fmt = d => String(d);
  const styleAxis = (sel) => {
    sel.select(".domain").remove();
    sel.attr("font-size", 24).attr("font-family", SANS);
    sel.selectAll("text").attr("fill", "#000").attr("transform", `scale(${SX},1)`);
    sel.selectAll("line").attr("stroke", "#000");
  };
  g.append("g").attr("transform", `translate(0,${T + H})`)
    .call(d3.axisBottom(x).tickValues(xTicks).tickFormat(fmt).tickSizeInner(-5).tickSizeOuter(0).tickPadding(15))
    .call(styleAxis);
  g.append("g").attr("transform", `translate(${L},0)`)
    .call(d3.axisLeft(y).tickValues(yTicks).tickFormat(fmt).tickSizeInner(-5).tickSizeOuter(0).tickPadding(p.col ? 9 : 6))
    .call(styleAxis);
  g.append("g").attr("transform", `translate(0,${T})`)
    .call(d3.axisTop(x).tickValues(xTicks).tickFormat("").tickSizeInner(-5).tickSizeOuter(0))
    .call(styleAxis);
  g.append("g").attr("transform", `translate(${L + W},0)`)
    .call(d3.axisRight(y).tickValues(yTicks).tickFormat("").tickSizeInner(-5).tickSizeOuter(0))
    .call(styleAxis);

  txt(g, L + W / 2, T + H + 67, xLabel, {anchor: "middle"});
  txt(g, L - 50.5, T + H / 2, yLabel, {anchor: "middle", rot: -90});
  txt(g, L + 30, T + 57, p.name, {});
  if (p.outlier) {
    txt(g, x(0) + 3, T + 238, "Outlier", {anchor: "middle", family: SERIF, size: 54, fill: "#ff0000", sx: 1});
  }
});

// ---------- legend ----------
const lg = svg.append("g");
lg.append("rect").attr("x", 632).attr("y", 1224).attr("width", 394).attr("height", 114)
  .attr("fill", "#fff").attr("stroke", "#000").attr("stroke-width", 2);
const legendStyles = [
  {stroke: "#0000ff", width: 1.3, dash: null},
  {stroke: "#ff0000", width: 4.5, dash: "2,1"},
  {stroke: "#000000", width: 5, dash: null}
];
const legendRowY = [1246, 1281, 1315];
legendItems.forEach((name, i) => {
  const s = legendStyles[i];
  const ln = lg.append("line").attr("x1", 648).attr("x2", 726)
    .attr("y1", legendRowY[i]).attr("y2", legendRowY[i])
    .attr("stroke", s.stroke).attr("stroke-width", s.width);
  if (s.dash) ln.attr("stroke-dasharray", s.dash);
  txt(lg, 743, legendRowY[i] + 9.5, name, {size: 25.5});
});
</script>
</body></html>
